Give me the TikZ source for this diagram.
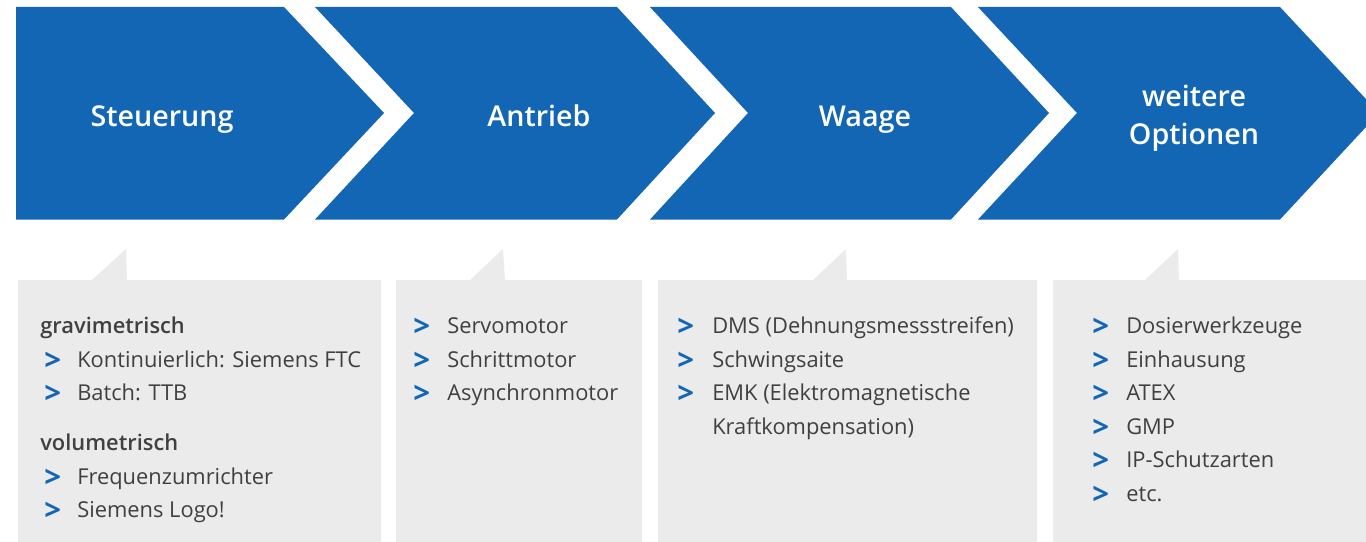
\documentclass[tikz,border=0pt]{standalone}
\usepackage{fontspec}
\setmainfont{Open Sans}
\IfFontExistsTF{Open Sans SemiBold}{\newfontfamily\semib{Open Sans SemiBold}}{%
  \IfFontExistsTF{Open Sans Semibold}{\newfontfamily\semib{Open Sans Semibold}}{\newcommand\semib{\bfseries}}}
\definecolor{chevblue}{RGB}{19,102,179}
\definecolor{boxgray}{RGB}{235,235,235}
\definecolor{txtgray}{RGB}{64,64,64}
\begin{document}
\begin{tikzpicture}[x=0.75pt,y=-0.75pt,
  chev/.style={fill=chevblue, draw=none},
  panel/.style={fill=boxgray, draw=none},
  head/.style={text=white, font=\fontsize{21.5}{25}\selectfont\semib, anchor=base, inner sep=0pt},
  item/.style={text=txtgray, font=\fontsize{16.4}{20}\selectfont, anchor=base west, inner sep=0pt},
  subhead/.style={text=txtgray, font=\fontsize{16.4}{20}\selectfont\semib, anchor=base west, inner sep=0pt},
  bul/.style={text=chevblue, font=\fontsize{22}{22}\selectfont\bfseries, anchor=base west, inner sep=0pt, yshift=-2.4pt, xshift=-1.5pt}]
\useasboundingbox (0,0) rectangle (1366,542);
\clip (0,0) rectangle (1366,542);
% chevrons
\fill[chev] (16,7) -- (284,7) -- (384,113) -- (284,219.5) -- (16,219.5) -- cycle;
\fill[chev] (315,7) -- (617,7) -- (715,113) -- (617,219.5) -- (315,219.5) -- (414,113) -- cycle;
\fill[chev] (650,7) -- (951,7) -- (1049,113) -- (951,219.5) -- (650,219.5) -- (748,113) -- cycle;
\fill[chev] (978,7) -- (1280,7) -- (1379,113) -- (1280,219.5) -- (978,219.5) -- (1077,113) -- cycle;
\node[head] (h1) at (162,126) {Steuerung};
\node[head] (h2) at (539,126) {Antrieb};
\node[head] (h3) at (865,126) {Waage};
\node[head] (h4a) at (1194,106) {weitere};
\node[head] (h4b) at (1194,144) {Optionen};
% panels with tabs
\fill[panel] (18,280) -- (92,280) -- (126,249) -- (127,280) -- (381,280) -- (381,542) -- (18,542) -- cycle;
\fill[panel] (396,280) -- (470,280) -- (503,249) -- (505,280) -- (642,280) -- (642,542) -- (396,542) -- cycle;
\fill[panel] (658,280) -- (813,280) -- (846,249) -- (847,280) -- (1037,280) -- (1037,542) -- (658,542) -- cycle;
\fill[panel] (1053,280) -- (1145,280) -- (1178,249) -- (1179,280) -- (1366,280) -- (1366,542) -- (1053,542) -- cycle;
% panel 1
\node[subhead] (a1) at (40,333) {gravimetrisch};
\node[bul] (ab1) at (46,367) {>};
\node[item] (a2) at (77,367) {Kontinuierlich: Siemens FTC};
\node[bul] (ab2) at (46,400.5) {>};
\node[item] (a3) at (77,400.5) {Batch: TTB};
\node[subhead] (a4) at (40,450) {volumetrisch};
\node[bul] (ab3) at (46,484) {>};
\node[item] (a5) at (77,484) {Frequenzumrichter};
\node[bul] (ab4) at (46,517) {>};
\node[item] (a6) at (77,517) {Siemens Logo!};
% panel 2
\node[bul] (bb1) at (415,333) {>};
\node[item] (b1) at (447,333) {Servomotor};
\node[bul] (bb2) at (415,367) {>};
\node[item] (b2) at (447,367) {Schrittmotor};
\node[bul] (bb3) at (415,400.5) {>};
\node[item] (b3) at (447,400.5) {Asynchronmotor};
% panel 3
\node[bul] (cb1) at (679,333) {>};
\node[item] (c1) at (712,333) {DMS (Dehnungsmessstreifen)};
\node[bul] (cb2) at (679,367) {>};
\node[item] (c2) at (712,367) {Schwingsaite};
\node[bul] (cb3) at (679,400.5) {>};
\node[item] (c3) at (712,400.5) {EMK (Elektromagnetische};
\node[item] (c4) at (712,434) {Kraftkompensation)};
% panel 4
\node[bul] (db1) at (1094,333) {>};
\node[item] (d1) at (1126,333) {Dosierwerkzeuge};
\node[bul] (db2) at (1094,367) {>};
\node[item] (d2) at (1126,367) {Einhausung};
\node[bul] (db3) at (1094,400.5) {>};
\node[item] (d3) at (1126,400.5) {ATEX};
\node[bul] (db4) at (1094,434) {>};
\node[item] (d4) at (1126,434) {GMP};
\node[bul] (db5) at (1094,467.5) {>};
\node[item] (d5) at (1126,467.5) {IP-Schutzarten};
\node[bul] (db6) at (1094,501) {>};
\node[item] (d6) at (1126,501) {etc.};
\end{tikzpicture}
\end{document}
